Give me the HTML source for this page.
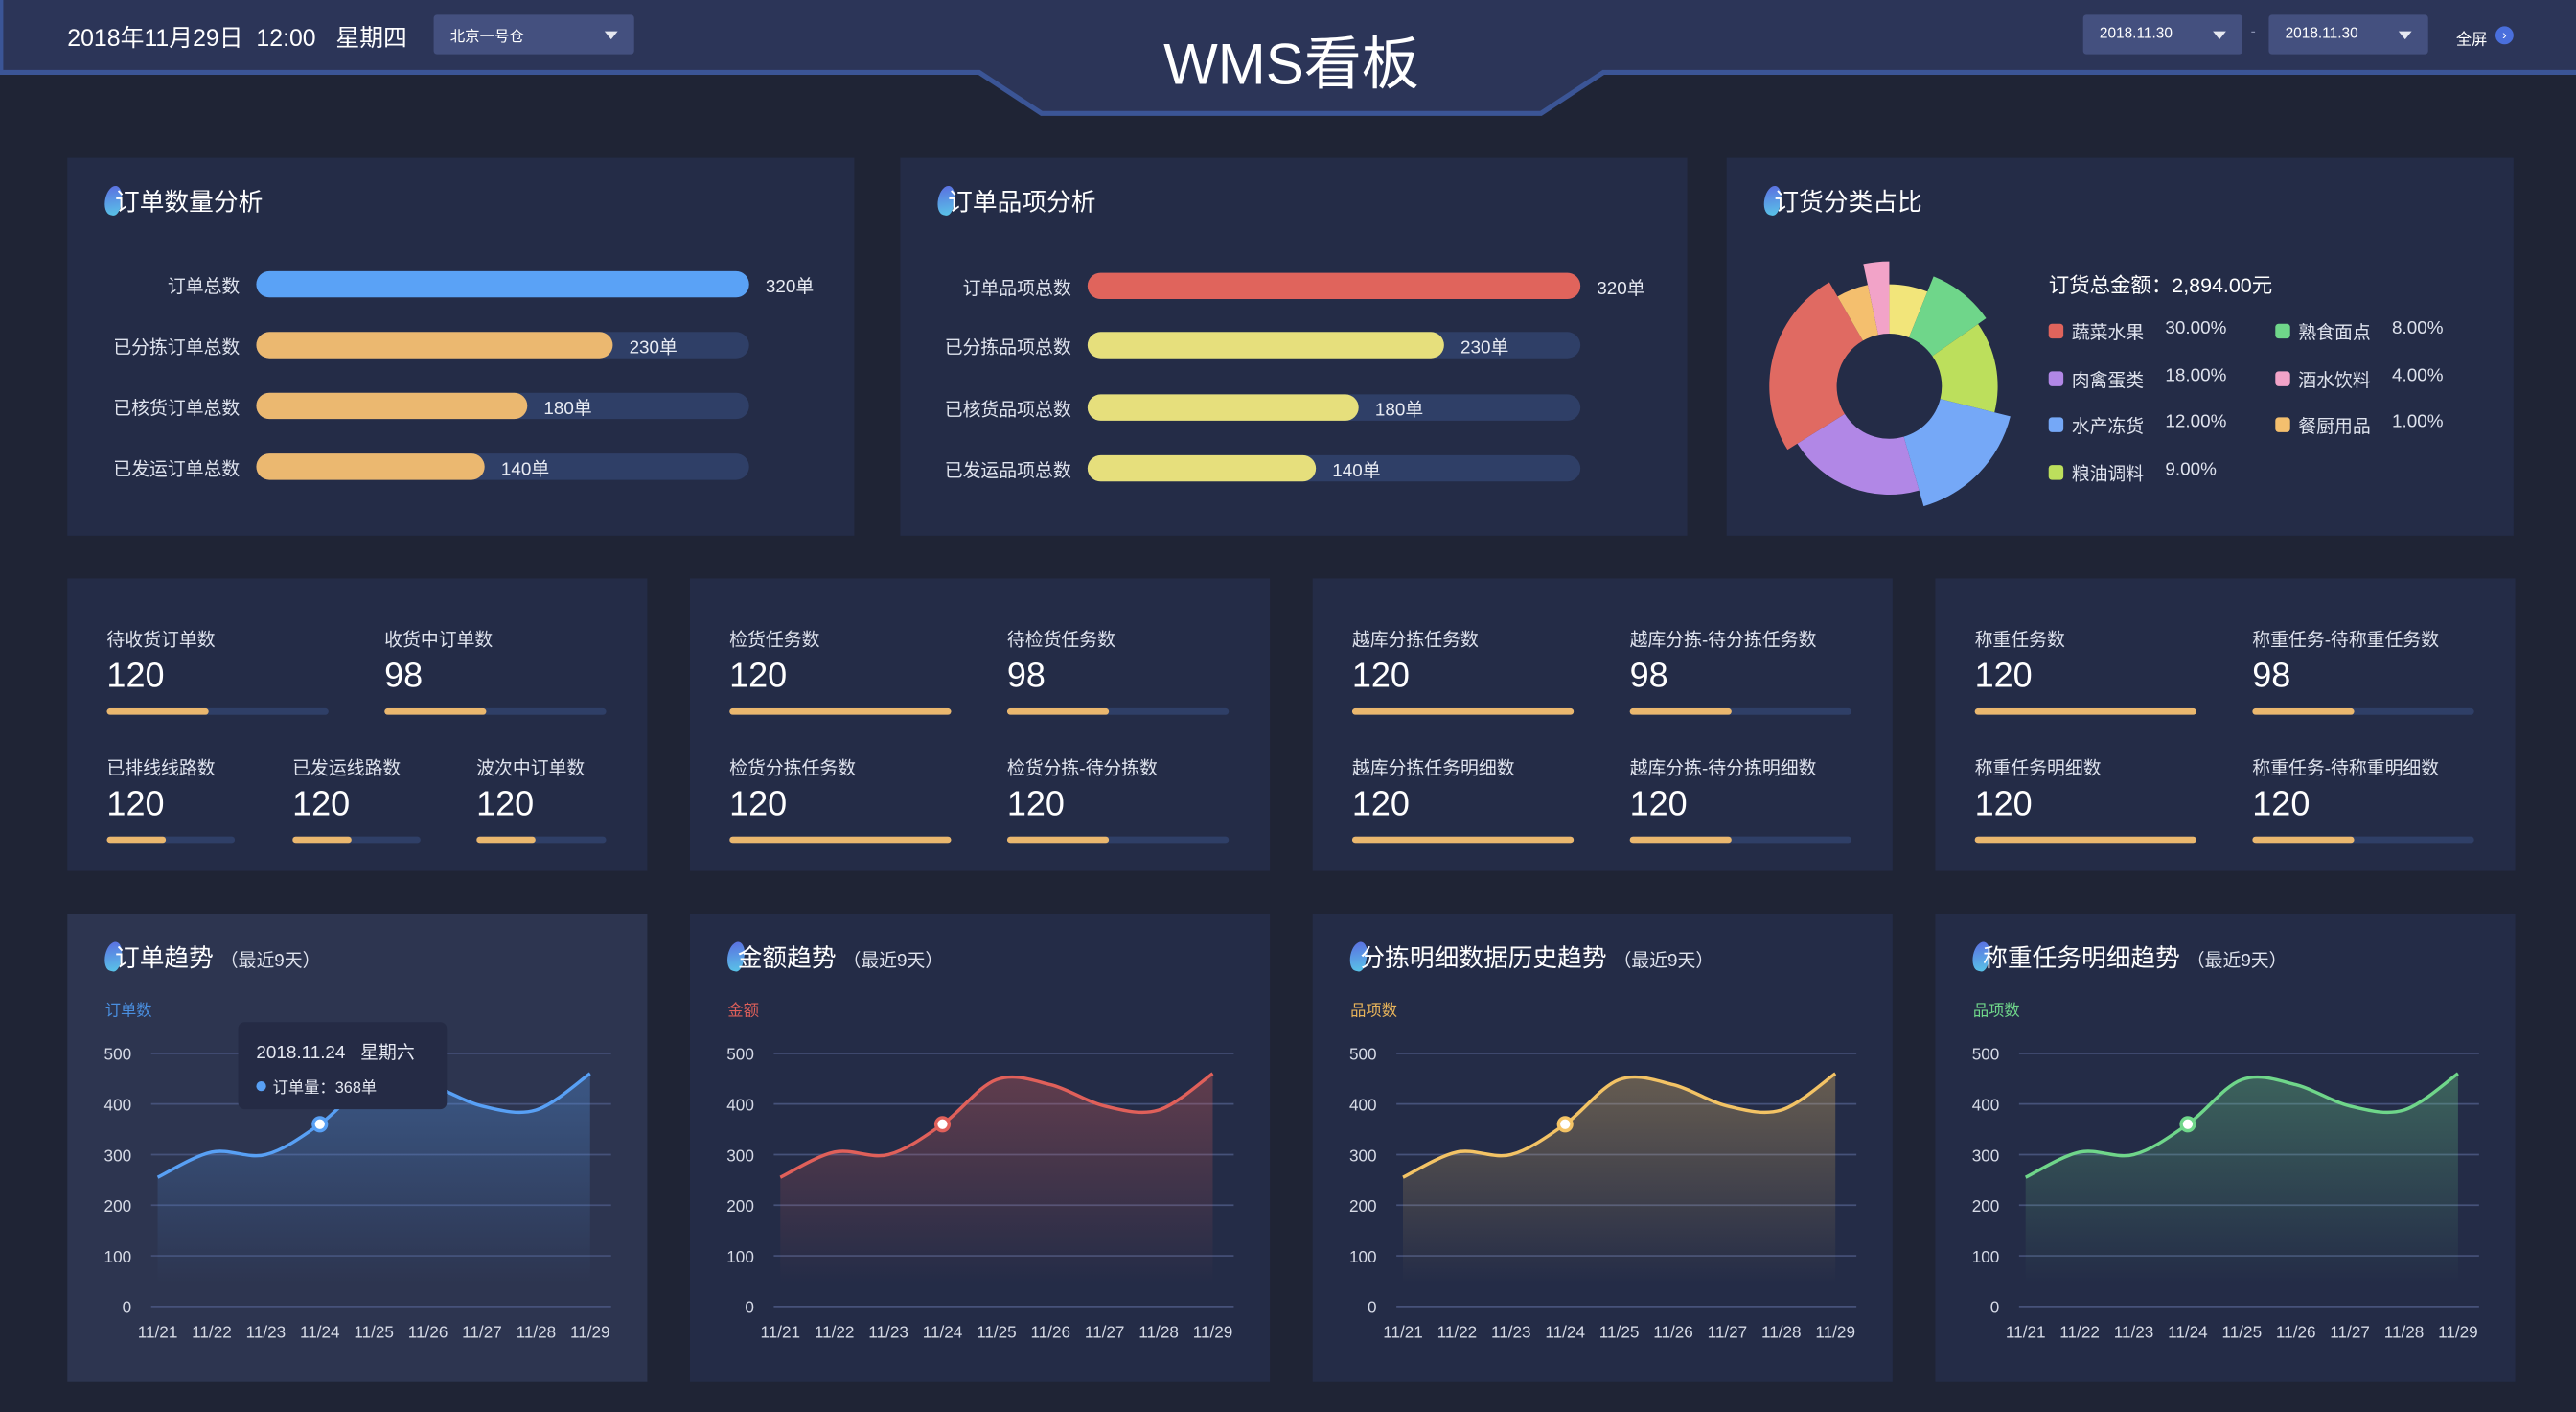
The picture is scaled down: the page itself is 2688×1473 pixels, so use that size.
<!DOCTYPE html>
<html><head><meta charset="utf-8"><style>
*{margin:0;padding:0;box-sizing:border-box}
html,body{width:2688px;height:1472px;overflow:hidden;background:#1f2435}
#w{position:absolute;left:0;top:0;width:1568px;height:859px;transform:scale(1.714286);transform-origin:0 0;font-family:"Liberation Sans","Noto Sans CJK SC",sans-serif;color:#fff}
.a{position:absolute;white-space:nowrap}
.card{position:absolute;background:#242c47}
.tt{position:absolute;font-size:15px;color:#fff;left:24px;top:16px;white-space:nowrap}
.tt i{position:absolute;left:-1px;top:1px;width:10px;height:18px;border-radius:60% 60% 40% 60%;background:linear-gradient(160deg,#5b6be0,#59c7e8);transform:rotate(12deg)}
.tt b{font-weight:normal;position:relative;left:5px}
.tt small{font-size:11px;color:#dfe3ee;margin-left:4px}
.lbl{font-size:11px;color:#dfe3ee}
.trk{position:absolute;height:16px;border-radius:8px;background:#2f3f67}
.fil{position:absolute;left:0;top:0;height:16px;border-radius:8px}
.bv{position:absolute;font-size:11px;color:#e8ebf3;top:1px;white-space:nowrap}
.sl{position:absolute;font-size:11px;color:#dfe3ee;white-space:nowrap}
.sn{position:absolute;font-size:21px;color:#fff}
.sb{position:absolute;height:4px;border-radius:2px;background:#2f3f67;overflow:hidden}
.sb div{height:4px;background:#eab76e;border-radius:2px}
.dd{position:absolute;background:#44507f;border-radius:2px;font-size:9px;color:#fff;padding:6px 0 0 10px;white-space:nowrap}
.dd:after{content:"";position:absolute;right:10px;top:10px;border:4px solid transparent;border-top:5px solid #e6e8f0}
.lg{position:absolute;font-size:11px;color:#dfe3ee;white-space:nowrap;height:15px}
.lg s{position:absolute;left:0;top:3px;width:9px;height:9px;border-radius:2px;text-decoration:none}
</style></head><body><div id="w">
<svg class="a" style="left:0;top:0" width="1568" height="80">
<polygon points="0,0 1568,0 1568,43 976,43 938,68 634,68 596,43 0,43" fill="#2c3558"/>
<polyline points="0,44 596,44 634,69 938,69 976,44 1568,44" fill="none" stroke="#3b5596" stroke-width="3"/>
<line x1="1" y1="0" x2="1" y2="43" stroke="#3b5596" stroke-width="2"/>
</svg>
<div class="a" style="left:41px;top:12px;font-size:14.5px">2018年11月29日&nbsp;&nbsp;12:00&nbsp;&nbsp;&nbsp;星期四</div>
<div class="dd" style="left:264px;top:9px;width:122px;height:24px">北京一号仓</div>
<div class="a" style="left:686px;top:11px;width:200px;text-align:center;font-size:35px">WMS看板</div>
<div class="dd" style="left:1268px;top:9px;width:97px;height:24px">2018.11.30</div>
<div class="a" style="left:1370px;top:14px;font-size:9px;color:#8890b0">-</div>
<div class="dd" style="left:1381px;top:9px;width:97px;height:24px">2018.11.30</div>
<div class="a" style="left:1495px;top:16px;font-size:9.5px">全屏</div>
<div class="a" style="left:1519px;top:16px;width:11px;height:11px;border-radius:50%;background:#4a6fdc;font-size:8px;line-height:11px;text-align:center">›</div>

<div class="card" style="left:41px;top:96px;width:479px;height:230px">
<div class="tt"><i></i><b>订单数量分析</b></div>
</div>
<div class="card" style="left:548px;top:96px;width:479px;height:230px">
<div class="tt"><i></i><b>订单品项分析</b></div>
</div>
<div class="card" style="left:1051px;top:96px;width:479px;height:230px">
<div class="tt"><i></i><b>订货分类占比</b></div>
</div>
<div id="bars"></div>
<svg class="a" style="left:1068px;top:150px" width="170" height="170" id="donut"></svg>
<div class="a" style="left:1247px;top:163px;font-size:12.5px">订货总金额：2,894.00元</div>
<div id="leg"></div>
<div id="stats"></div>
<div id="charts"></div>
</div>
<script>
var W=document.getElementById('w');
function add(h){W.insertAdjacentHTML('beforeend',h);}
var B=[[41+115,[173,210,247,284],['订单总数','已分拣订单总数','已核货订单总数','已发运订单总数'],'#5aa2f6','#ebb870','单'],
[548+114,[174,210,248,285],['订单品项总数','已分拣品项总数','已核货品项总数','已发运品项总数'],'#e0645c','#e6df7c','']];
var vals=[320,230,180,140],fw=[300,217,165,139];
B.forEach(function(b){for(var i=0;i<4;i++){var y=b[1][i]-8,x=b[0];
add('<div class="a lbl" style="left:'+(x-130)+'px;width:120px;text-align:right;top:'+(y+1)+'px">'+b[2][i]+'</div>');
var c=(i==0)?b[3]:b[4];
add('<div class="trk" style="left:'+x+'px;top:'+y+'px;width:300px"><div class="fil" style="width:'+fw[i]+'px;background:'+c+'"></div><div class="bv" style="left:'+(fw[i]+10)+'px">'+vals[i]+'单</div></div>');}});
var cx=82,cy=85,ri=32,segs=[[0,22,'#f2e57a',62],[22,55,'#6fd68a',72],[55,104,'#bcdf5c',66],[104,164,'#75a8f7',76],[164,238,'#b187e6',66],[238,330,'#e06a62',73],[330,348,'#f4bf6e',63],[348,360,'#f2a3c8',76]];
var s='';segs.forEach(function(g){var a0=(g[0]-90)*Math.PI/180,a1=(g[1]-90)*Math.PI/180,R=g[3],l=(g[1]-g[0])>180?1:0;
function p(r,a){return (cx+r*Math.cos(a)).toFixed(2)+','+(cy+r*Math.sin(a)).toFixed(2)}
s+='<path d="M'+p(ri,a0)+' L'+p(R,a0)+' A'+R+','+R+' 0 '+l+' 1 '+p(R,a1)+' L'+p(ri,a1)+' A'+ri+','+ri+' 0 '+l+' 0 '+p(ri,a0)+'Z" fill="'+g[2]+'"/>';});
document.getElementById('donut').innerHTML=s;
var L=[[1247,202,'#e0645c','蔬菜水果','30.00%'],[1385,202,'#6fd68a','熟食面点','8.00%'],[1247,231,'#b187e6','肉禽蛋类','18.00%'],[1385,231,'#f2a3c8','酒水饮料','4.00%'],[1247,259,'#75a8f7','水产冻货','12.00%'],[1385,259,'#f4bf6e','餐厨用品','1.00%'],[1247,288,'#bcdf5c','粮油调料','9.00%']];
L.forEach(function(l){add('<div class="lg" style="left:'+l[0]+'px;top:'+(l[1]-8)+'px"><s style="background:'+l[2]+'"></s><span style="position:absolute;left:14px;top:0">'+l[3]+'</span><span style="position:absolute;left:71px;top:0">'+l[4]+'</span></div>');});
var X=[41,420,799,1178];
var S=[
[['待收货订单数','120',.46],['收货中订单数','98',.46],[['已排线线路数','120',.46],['已发运线路数','120',.46],['波次中订单数','120',.46]]],
[['检货任务数','120',1],['待检货任务数','98',.46],[['检货分拣任务数','120',1],['检货分拣-待分拣数','120',.46]]],
[['越库分拣任务数','120',1],['越库分拣-待分拣任务数','98',.46],[['越库分拣任务明细数','120',1],['越库分拣-待分拣明细数','120',.46]]],
[['称重任务数','120',1],['称重任务-待称重任务数','98',.46],[['称重任务明细数','120',1],['称重任务-待称重明细数','120',.46]]]];
function stat(x,y,w,d){add('<div class="sl" style="left:'+x+'px;top:'+(y-8)+'px">'+d[0]+'</div><div class="sn" style="left:'+x+'px;top:'+(y+11)+'px">'+d[1]+'</div><div class="sb" style="left:'+x+'px;top:'+(y+42)+'px;width:'+w+'px"><div style="width:'+(w*d[2])+'px"></div></div>');}
S.forEach(function(c,k){var x0=X[k];add('<div class="card" style="left:'+x0+'px;top:352px;width:353px;height:178px"></div>');
stat(x0+24,389,135,c[0]);stat(x0+193,389,135,c[1]);
if(c[2].length==3){stat(x0+24,467,78,c[2][0]);stat(x0+137,467,78,c[2][1]);stat(x0+249,467,79,c[2][2]);}
else{stat(x0+24,467,135,c[2][0]);stat(x0+193,467,135,c[2][1]);}});
var T=[['订单趋势','订单数','#58a0f5','#4a8fe0'],['金额趋势','金额','#e0605a','#e0605a'],['分拣明细数据历史趋势','品项数','#f3c365','#e8b45a'],['称重任务明细趋势','品项数','#6fd68a','#6fd68a']];
var D=[255,305,300,360,448,438,396,388,460];
T.forEach(function(t,k){var x0=X[k];
add('<div class="card" style="left:'+x0+'px;top:556px;width:353px;height:285px;background:'+(k==0?'#2d3550':'#242c47')+'"><div class="tt"><i></i><b>'+t[0]+'<small>（最近9天）</small></b></div><div class="a" style="left:23px;top:51px;font-size:9.5px;color:'+t[3]+'">'+t[1]+'</div></div>');
var g='<svg class="a" style="left:'+x0+'px;top:556px" width="353" height="285"><defs><linearGradient id="g'+k+'" x1="0" y1="0" x2="0" y2="1"><stop offset="0" stop-color="'+t[2]+'" stop-opacity="0.32"/><stop offset="1" stop-color="'+t[2]+'" stop-opacity="0"/></linearGradient></defs>';
for(var i=0;i<=5;i++){var y=795-556-i*30.8;g+='<line x1="51" x2="331" y1="'+y+'" y2="'+y+'" stroke="#46527a" stroke-width="1"/><text x="39" y="'+(y+4)+'" text-anchor="end" font-size="10" fill="#d6dae6" font-family="Liberation Sans">'+(i*100)+'</text>';}
var P=D.map(function(v,i){return [55+i*32.9,239-v*0.308];});
var d='M'+P[0][0]+','+P[0][1];
for(var i=0;i<P.length-1;i++){var p0=P[Math.max(0,i-1)],p1=P[i],p2=P[i+1],p3=P[Math.min(P.length-1,i+2)];
d+=' C'+(p1[0]+(p2[0]-p0[0])/6).toFixed(2)+','+(p1[1]+(p2[1]-p0[1])/6).toFixed(2)+' '+(p2[0]-(p3[0]-p1[0])/6).toFixed(2)+','+(p2[1]-(p3[1]-p1[1])/6).toFixed(2)+' '+p2[0]+','+p2[1];}
g+='<path d="'+d+' L'+P[8][0]+',225 L'+P[0][0]+',225Z" fill="url(#g'+k+')"/><path d="'+d+'" fill="none" stroke="'+t[2]+'" stroke-width="2"/>';
g+='<circle cx="'+P[3][0]+'" cy="'+P[3][1]+'" r="4" fill="#fff" stroke="'+t[2]+'" stroke-width="2"/>';
var lb=['11/21','11/22','11/23','11/24','11/25','11/26','11/27','11/28','11/29'];
lb.forEach(function(s,i){g+='<text x="'+P[i][0]+'" y="258" text-anchor="middle" font-size="10" fill="#d6dae6" font-family="Liberation Sans">'+s+'</text>';});
g+='</svg>';add(g);});
add('<div class="a" style="left:145px;top:622px;width:127px;height:53px;background:#252b45;border-radius:4px"><div class="a" style="left:11px;top:10px;font-size:11px;color:#e6e9f2">2018.11.24&nbsp;&nbsp;&nbsp;星期六</div><div class="a" style="left:11px;top:32px;font-size:9.5px;color:#e6e9f2"><span style="display:inline-block;width:6px;height:6px;border-radius:50%;background:#58a0f5;margin-right:4px;vertical-align:1px"></span>订单量：368单</div></div>');
</script>
</body></html>
